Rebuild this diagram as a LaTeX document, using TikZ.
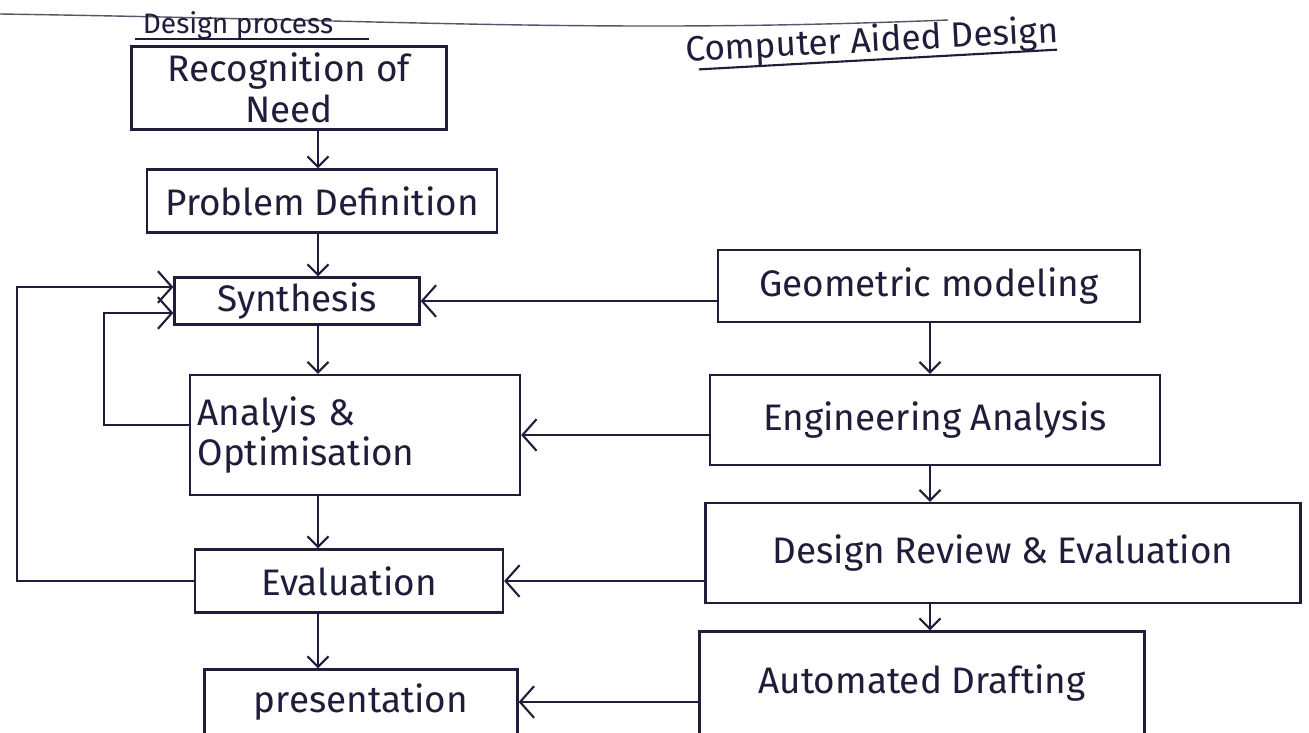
\documentclass[tikz,border=0pt]{standalone}
\usepackage{fontspec}
\setmainfont{Fira Sans}
\usetikzlibrary{positioning,arrows.meta,calc}
\definecolor{ink}{HTML}{1F1D3A}
\tikzset{
  stage/.style={rectangle,draw=ink,line width=1.3pt,align=center,inner sep=2pt,
    text=ink,font=\fontsize{21}{23}\selectfont},
  head/.style={text=ink,inner sep=1pt,font=\fontsize{16}{18}\selectfont},
  flow/.style={-{Straight Barb[length=6pt,width=12pt]},line width=1.2pt,draw=ink},
  back/.style={flow,-{Straight Barb[length=8pt,width=18pt]}},
}

\begin{document}
\begin{tikzpicture}[x=0.02cm,y=-0.02cm]
  \useasboundingbox[fill=white] (0,0) rectangle (1309,733);
  \draw[ink!75,line width=0.8pt] (0,14) .. controls (400,20) and (600,34) .. (948,20);
  % headings
  \node[head] (dphead) at (238,26) {Design process};
  \draw[ink,line width=1.2pt] ($(dphead.south west)+(-6,-3)$) -- ($(dphead.south east)+(34,-3)$);
  \node[head,rotate=3,font=\fontsize{20}{24}\selectfont] (cadhead) at (872,42) {Computer Aided Design};
  \draw[ink,line width=1.2pt] ($(cadhead.south west)+(14,-2)$) -- ($(cadhead.south east)+(-4,-2)$);
  % design process (left)
  \node[stage,minimum width=6.3cm,minimum height=1.66cm] (need) at (289,88) {Recognition of\\Need};
  \node[stage,minimum width=7cm,minimum height=1.26cm] (probdef) at (322,201) {Problem Definition};
  \node[stage,minimum width=4.9cm,minimum height=0.94cm] (synth) at (297,301) {Synthesis};
  \node[stage,text width=6.3cm,inner xsep=0.15cm,minimum height=2.4cm,align=left] (optim) at (355,435) {Analyis \&\\Optimisation};
  \node[stage,minimum width=6.16cm,minimum height=1.26cm] (evalu) at (349,581) {Evaluation};
  \node[stage,minimum width=6.26cm,minimum height=1.3cm] (present) at (361,702) {presentation};
  % computer aided design (right)
  \node[stage,minimum width=8.44cm,minimum height=1.44cm] (geom) at (929,286) {Geometric modeling};
  \node[stage,minimum width=9cm,minimum height=1.8cm] (enga) at (935,420) {Engineering Analysis};
  \node[stage,minimum width=11.9cm,minimum height=2cm] (review) at (1003,553) {Design Review \& Evaluation};
  \node[stage,minimum width=8.9cm,minimum height=2.06cm] (draft) at (922,683) {Automated Drafting};
  % arrows down each column
  \coordinate (lcol) at (318,0);
  \coordinate (rcol) at (930,0);
  \foreach \a/\b in {need/probdef,probdef/synth,synth/optim,optim/evalu,evalu/present}
    \draw[flow] (\a.south -| lcol) -- (\b.north -| lcol);
  \foreach \a/\b in {geom/enga,enga/review,review/draft}
    \draw[flow] (\a.south -| rcol) -- (\b.north -| rcol);
  % CAD feeds the design steps
  \foreach \a/\b in {geom/synth,enga/optim,review/evalu,draft/present}
    \draw[back] (\a.west |- \b.east) -- (\b.east);
  % feedback loops
  \draw[back] (evalu.west) -- ++(-177,0) |- ([yshift=0.28cm]synth.west);
  \draw[back] ([yshift=0.2cm]optim.west) -- ++(-85,0) |- ([yshift=-0.24cm]synth.west);
\end{tikzpicture}
\end{document}
